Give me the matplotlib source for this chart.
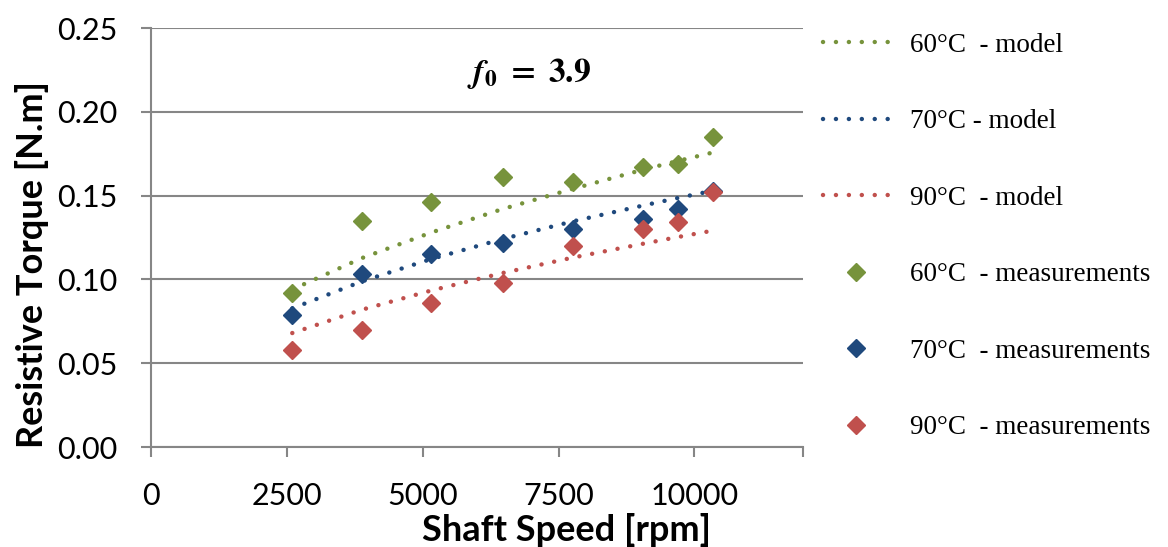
# -*- coding: utf-8 -*-
import matplotlib
matplotlib.use("Agg")
import matplotlib.pyplot as plt

# shaft speed [rpm]
speed = [2600, 3880, 5160, 6470, 7760, 9060, 9700, 10340]

# measurements [N.m]
meas_60 = [0.0917, 0.135, 0.146, 0.161, 0.158, 0.167, 0.169, 0.185]
meas_70 = [0.0786, 0.103, 0.115, 0.122, 0.130, 0.136, 0.142, 0.153]
meas_90 = [0.058, 0.0696, 0.0857, 0.0976, 0.120, 0.130, 0.1345, 0.152]

# model [N.m]
model_60 = [0.094, 0.1127, 0.128, 0.142, 0.154, 0.1655, 0.1707, 0.1757]
model_70 = [0.0827, 0.0988, 0.1122, 0.1241, 0.1346, 0.1441, 0.1486, 0.1529]
model_90 = [0.068, 0.0819, 0.0934, 0.1038, 0.1130, 0.1213, 0.1253, 0.1291]

labels_model = ["60°C  - model", "70°C - model", "90°C  - model"]
labels_meas = ["60°C  - measurements", "70°C  - measurements", "90°C  - measurements"]

GREEN = "#77933C"
BLUE = "#1F497D"
RED = "#C0504D"
GRID = "#868686"

plt.rcParams["font.family"] = ["Lato", "DejaVu Sans"]
plt.rcParams["mathtext.fontset"] = "stix"

fig = plt.figure(figsize=(11.68, 5.47), dpi=100)
ax = fig.add_axes([0.1293, 0.1828, 0.6875 - 0.1293, 0.9488 - 0.1828])

dots = (0, (0.01, 2.9))
handles = []
for y, c, lab in zip([model_60, model_70, model_90], [GREEN, BLUE, RED], labels_model):
    h, = ax.plot(speed, y, color=c, lw=3.2, linestyle=dots,
                 dash_capstyle="round", label=lab, zorder=3)
    handles.append(h)
for y, c, lab in zip([meas_60, meas_70, meas_90], [GREEN, BLUE, RED], labels_meas):
    h, = ax.plot(speed, y, color=c, lw=0, marker="D", ms=9.5,
                 label=lab, zorder=4)
    handles.append(h)

ax.set_xlim(0, 12000)
ax.set_ylim(0, 0.25)
ax.set_xticks([0, 2500, 5000, 7500, 10000, 12000])
ax.set_xticklabels(["0", "2500", "5000", "7500", "10000", ""])
ax.set_yticks([0, 0.05, 0.10, 0.15, 0.20, 0.25])
ax.set_yticklabels(["0.00", "0.05", "0.10", "0.15", "0.20", "0.25"])
ax.yaxis.grid(True, color=GRID, lw=1.5)
ax.set_axisbelow(True)
for s in ["top", "right"]:
    ax.spines[s].set_visible(False)
for s in ["left", "bottom"]:
    ax.spines[s].set_color(GRID)
    ax.spines[s].set_linewidth(1.5)
ax.tick_params(axis="both", colors=GRID, width=1.5, length=7, labelsize=22,
               labelcolor="black")
ax.tick_params(axis="x", pad=18)
ax.tick_params(axis="y", pad=17)

ax.set_xlabel("Shaft Speed [rpm]", fontsize=26, fontweight="bold")
ax.xaxis.set_label_coords(0.638, -0.198)
ax.xaxis.label.set_va("center")
ax.set_ylabel("Resistive Torque [N.m]", fontsize=26, fontweight="bold")
ax.yaxis.set_label_coords(-0.183, 0.435)
ax.yaxis.label.set_va("center")

ax.text(6957, 0.2226, r"$\mathbfit{f}_{\mathbf{0}}\mathbf{\ =\ 3.9}$",
        fontsize=24, ha="center", va="center")

fig.legend(handles=handles, loc="upper left", bbox_to_anchor=(0.7046, 0.94),
           frameon=False, handlelength=2.45, labelspacing=1.9, handletextpad=0.78,
           borderpad=0, borderaxespad=0,
           prop={"family": "Liberation Serif", "size": 19.5}, numpoints=1)

fig.savefig("out.png", dpi=100)
